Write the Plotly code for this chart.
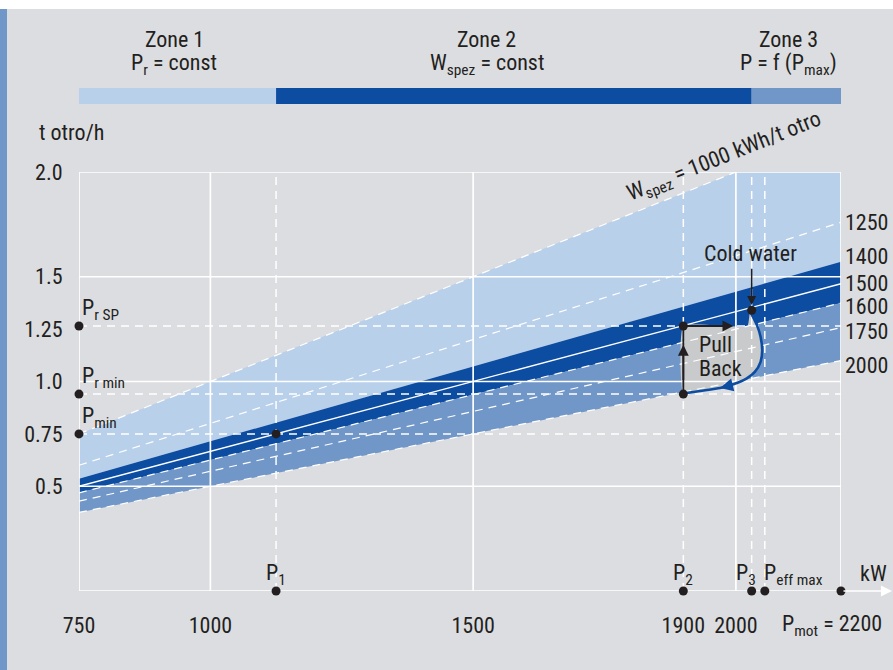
import plotly.graph_objects as go

# ---------------- data ----------------
P_START, P_END = 750, 2200                      # kW range of the W_spez lines
w_dashed = [1000, 1250, 1600, 1750, 2000]       # kWh/t otro, dashed white lines
w_solid = [1500]                                # solid white line
band_light = (1000, 1400)
band_dark = (1400, 1600)
band_medium = (1600, 2000)
w_label_values = [1250, 1400, 1500, 1600, 1750, 2000]
w_label_text = ["1250", "1400", "1500", "1600", "1750", "2000"]
w_label_yshift = [0, 5, 0, -4, -4, -5]

x_grid_solid = [750, 1000, 1500, 2000, 2200]
y_grid_solid = [0, 0.5, 1.0, 1.5, 2.0]
x_tick_vals = [750, 1000, 1500, 1900, 2000]
x_tick_text = ["750", "1000", "1500", "1900", "2000"]
y_tick_vals = [0.5, 0.75, 1.0, 1.25, 1.5, 2.0]
y_tick_text = ["0.5", "0.75", "1.0", "1.25", "1.5", "2.0"]

P1, P2, P3, P_EFF, P_MOT = 1125, 1900, 2030, 2055, 2200
PR_SP, PR_MIN, P_MIN_T = 1.265, 0.94, 0.75
x_dashed = [P1, P2, P3, P_EFF]
y_dashed = [P_MIN_T, PR_MIN, PR_SP]

cold_point = (2030, 1.34)
curve_x = [2027, 2040, 2047, 2050, 2047, 2036, 2020, 1995, 1970, 1932, 1900]
curve_y = [1.336, 1.269, 1.213, 1.149, 1.094, 1.046, 1.014, 0.987, 0.969, 0.955, 0.943]
pull_top_x = 2022

zone_edges = [750, P1, P3, 2200]
zone_title = ["Zone 1", "Zone 2", "Zone 3"]
zone_rule = ["P<sub>r</sub> = const", "W<sub>spez</sub> = const", "P = f (P<sub>max</sub>)"]
zone_label_x = [931, 1526, 2101]

# ---------------- style ----------------
BG = "#dcdde0"
LIGHT = "#b9d0eb"
DARK = "#0c4da2"
MED = "#7097c7"
PULL = "#c9cacc"
TXT = "#231f20"
FONT = "Liberation Sans Narrow, Roboto Condensed, Arial Narrow, Roboto, sans-serif"
FS = 22

W, H = 893, 670
ML, MR, MT, MB = 79, 52, 172, 79
PW, PH = W - ML - MR, H - MT - MB


def px_x(px):
    return (px - ML) / PW


def px_y(py):
    return (H - MB - py) / PH


def wline(w):
    return [P_START, P_END], [P_START / w, P_END / w]


fig = go.Figure()

# bands
for (w_hi, w_lo), col in [(band_light, LIGHT), (band_dark, DARK), (band_medium, MED)]:
    xa, ya = wline(w_lo)
    xb, yb = wline(w_hi)
    fig.add_trace(go.Scatter(x=xa, y=ya, mode="lines", line=dict(width=0, color=col),
                             hoverinfo="skip", showlegend=False))
    fig.add_trace(go.Scatter(x=xb, y=yb, mode="lines", line=dict(width=0, color=col),
                             fill="tonexty", fillcolor=col, hoverinfo="skip", showlegend=False))

# pull back region
fig.add_trace(go.Scatter(x=[P2, P2, pull_top_x] + curve_x, y=[curve_y[-1], PR_SP, PR_SP] + curve_y,
                         mode="lines", line=dict(width=0, color=PULL, shape="spline", smoothing=0.4),
                         fill="toself", fillcolor=PULL, hoverinfo="skip", showlegend=False))


def seg_trace(xs_v, ys_h, dash, width):
    gx, gy = [], []
    for v in xs_v:
        gx += [v, v, None]
        gy += [0, 2.0, None]
    for h in ys_h:
        gx += [750, 2200, None]
        gy += [h, h, None]
    return go.Scatter(x=gx, y=gy, mode="lines", line=dict(color="white", width=width, dash=dash),
                      hoverinfo="skip", showlegend=False, cliponaxis=False)


fig.add_trace(seg_trace(x_grid_solid, y_grid_solid, "solid", 1.7))
fig.add_trace(seg_trace(x_dashed, y_dashed, "8px,6px", 1.5))

for w in w_dashed:
    xs, ys = wline(w)
    fig.add_trace(go.Scatter(x=xs, y=ys, mode="lines", line=dict(color="white", width=1.2, dash="8px,6px"),
                             hoverinfo="skip", showlegend=False))
for w in w_solid:
    xs, ys = wline(w)
    fig.add_trace(go.Scatter(x=xs, y=ys, mode="lines", line=dict(color="white", width=1.3),
                             hoverinfo="skip", showlegend=False))

# blue curve
fig.add_trace(go.Scatter(x=curve_x, y=curve_y, mode="lines",
                         line=dict(color=DARK, width=2.6, shape="spline", smoothing=0.6),
                         hoverinfo="skip", showlegend=False))

# black vertical line of pull back
fig.add_trace(go.Scatter(x=[P2, P2], y=[PR_MIN, PR_SP], mode="lines", line=dict(color=TXT, width=1.8),
                         hoverinfo="skip", showlegend=False))

# dots
dot_x = [750, 750, 750, P1, P2, P2, cold_point[0], P1, P2, P3, P_EFF, P_MOT]
dot_y = [PR_SP, PR_MIN, P_MIN_T, P_MIN_T, PR_SP, PR_MIN, cold_point[1], 0, 0, 0, 0, 0]
fig.add_trace(go.Scatter(x=dot_x, y=dot_y, mode="markers", marker=dict(color=TXT, size=9),
                         cliponaxis=False, hoverinfo="skip", showlegend=False))

shapes = [
    dict(type="rect", xref="paper", yref="paper", x0=px_x(0), x1=px_x(W), y0=px_y(H), y1=px_y(9),
         fillcolor=BG, line=dict(width=0), layer="below"),
    dict(type="rect", xref="paper", yref="paper", x0=px_x(0), x1=px_x(7), y0=px_y(H), y1=px_y(9),
         fillcolor=MED, line=dict(width=0), layer="below"),
]
for i, col in enumerate([LIGHT, DARK, MED]):
    shapes.append(dict(type="rect", xref="x", yref="paper", x0=zone_edges[i], x1=zone_edges[i + 1],
                       y0=px_y(104), y1=px_y(88), fillcolor=col, line=dict(width=0), layer="above"))

ann = []
tf = dict(family=FONT, size=FS, color=TXT)
for i in range(3):
    ann.append(dict(x=zone_label_x[i], xref="x", y=px_y(40), yref="paper", text=zone_title[i],
                    showarrow=False, font=tf, xanchor="center", yanchor="middle"))
    ann.append(dict(x=zone_label_x[i], xref="x", y=px_y(65), yref="paper", text=zone_rule[i],
                    showarrow=False, font=tf, xanchor="center", yanchor="middle"))

ann.append(dict(x=px_x(37), xref="paper", y=px_y(133), yref="paper", text="t otro/h", showarrow=False,
                font=tf, xanchor="left", yanchor="middle"))
ann.append(dict(x=px_x(724), xref="paper", y=px_y(157), yref="paper",
                text="W<sub>spez</sub> = 1000 kWh/t otro", showarrow=False, font=tf,
                textangle=-21.8, xanchor="center", yanchor="middle"))

for v, t, s in zip(w_label_values, w_label_text, w_label_yshift):
    ann.append(dict(x=P_END, y=P_END / v, xref="x", yref="y", text=t, showarrow=False, font=tf,
                    xanchor="left", yanchor="middle", xshift=2, yshift=s))

# left point labels
for yv, t in [(PR_SP, "P<sub>r SP</sub>"), (PR_MIN, "P<sub>r min</sub>"), (P_MIN_T, "P<sub>min</sub>")]:
    ann.append(dict(x=750, y=yv, xref="x", yref="y", text=t, showarrow=False, font=tf,
                    xanchor="left", yanchor="bottom", xshift=1, yshift=0))

# bottom labels
ann.append(dict(x=P1, y=px_y(574), xref="x", yref="paper", text="P<sub>1</sub>", showarrow=False, font=tf,
                xanchor="center", yanchor="middle"))
ann.append(dict(x=P2, y=px_y(574), xref="x", yref="paper", text="P<sub>2</sub>", showarrow=False, font=tf,
                xanchor="center", yanchor="middle"))
ann.append(dict(x=P3, y=px_y(574), xref="x", yref="paper", text="P<sub>3</sub>", showarrow=False, font=tf,
                xanchor="center", yanchor="middle", xshift=-6))
ann.append(dict(x=P_EFF, y=px_y(574), xref="x", yref="paper", text="P<sub>eff max</sub>", showarrow=False,
                font=tf, xanchor="left", yanchor="middle", xshift=-3))
ann.append(dict(x=px_x(874), y=px_y(573), xref="paper", yref="paper", text="kW", showarrow=False, font=tf,
                xanchor="center", yanchor="middle"))
ann.append(dict(x=px_x(884), y=px_y(625), xref="paper", yref="paper", text="P<sub>mot</sub> = 2200",
                showarrow=False, font=tf, xanchor="right", yanchor="middle"))

# axis arrow
ann.append(dict(x=px_x(892), xref="paper", y=0, yref="y", ax=-50, ay=0, text="", showarrow=True,
                arrowhead=2, arrowsize=1.3, arrowwidth=1.7, arrowcolor="white", standoff=0))

# cold water
ann.append(dict(x=cold_point[0], y=(1.613), xref="x", yref="y", text="Cold water", showarrow=False,
                font=tf, xanchor="center", yanchor="middle", xshift=-1))
ann.append(dict(x=cold_point[0], y=1.365, ax=cold_point[0], ay=1.545, xref="x", yref="y", axref="x",
                ayref="y", text="", showarrow=True, arrowhead=2, arrowsize=1.2, arrowwidth=1.5,
                arrowcolor=TXT, standoff=0))
# pull back arrows
ann.append(dict(x=1995, y=PR_SP, ax=P2, ay=PR_SP, xref="x", yref="y", axref="x", ayref="y", text="",
                showarrow=True, arrowhead=2, arrowsize=1.2, arrowwidth=1.8, arrowcolor=TXT, standoff=0))
ann.append(dict(x=P2, y=1.175, ax=P2, ay=1.0, xref="x", yref="y", axref="x", ayref="y", text="",
                showarrow=True, arrowhead=2, arrowsize=1.2, arrowwidth=1.8, arrowcolor=TXT, standoff=0))
ann.append(dict(x=1970, y=0.969, ax=1997, ay=0.986, xref="x", yref="y", axref="x", ayref="y", text="",
                showarrow=True, arrowhead=2, arrowsize=1.0, arrowwidth=2.6, arrowcolor=DARK, standoff=0))
ann.append(dict(x=1926, y=1.175, xref="x", yref="y", text="Pull", showarrow=False, font=tf,
                xanchor="left", yanchor="middle"))
ann.append(dict(x=1926, y=1.06, xref="x", yref="y", text="Back", showarrow=False, font=tf,
                xanchor="left", yanchor="middle"))

fig.update_layout(
    width=W, height=H,
    margin=dict(l=ML, r=MR, t=MT, b=MB, pad=0),
    paper_bgcolor="white", plot_bgcolor="rgba(0,0,0,0)",
    font=dict(family=FONT, size=FS, color=TXT),
    showlegend=False,
    shapes=shapes, annotations=ann,
    xaxis=dict(range=[750, 2200], showgrid=False, zeroline=False, showline=False,
               tickvals=x_tick_vals, ticktext=x_tick_text, ticks="outside", ticklen=15,
               tickcolor="rgba(0,0,0,0)", tickfont=tf, fixedrange=True),
    yaxis=dict(range=[0, 2.0], showgrid=False, zeroline=False, showline=False,
               tickvals=y_tick_vals, ticktext=y_tick_text, ticks="outside", ticklen=11,
               tickcolor="rgba(0,0,0,0)", tickfont=tf, fixedrange=True),
)

fig.write_html("out.html", config={"staticPlot": True},
               post_script="document.body.style.margin='0';document.body.style.overflow='hidden';")
